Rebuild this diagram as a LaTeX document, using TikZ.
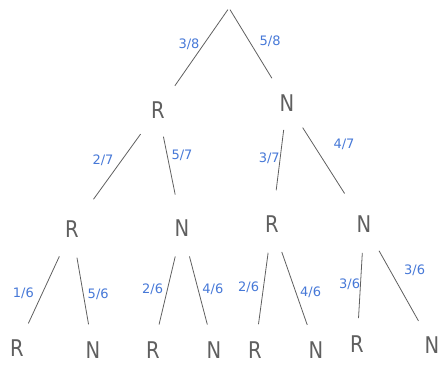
\documentclass[tikz,border=0pt]{standalone}
\usepackage{fontspec}
\setsansfont{DejaVu Sans}
\definecolor{pencil}{RGB}{95,95,95}
\definecolor{inkblue}{RGB}{70,120,215}

\begin{document}
\begin{tikzpicture}[x=1pt, y=-1pt,
      every node/.style={font=\sffamily},
      letter/.style={text=pencil, font=\sffamily\fontsize{23}{23}\selectfont\addfontfeature{FakeStretch=0.85}},
      prob/.style={text=inkblue, font=\sffamily\fontsize{13}{13}\selectfont, inner sep=4pt},
      branch/.style={draw=pencil, line width=0.8pt}
  ]
    \useasboundingbox (0,0) rectangle (438,367);
    \coordinate (root) at (229,8);
    % first draw
    \node[letter] (r) at (158,110) {R};
    \node[letter] (n) at (287,103) {N};
    % second draw
    \node[letter] (rr) at (72,229) {R};
    \node[letter] (rn) at (182,228) {N};
    \node[letter] (nr) at (272,224) {R};
    \node[letter] (nn) at (364,224) {N};
    % third draw
    \node[letter] (rrr) at (17,348) {R};
    \node[letter] (rrn) at (93,350) {N};
    \node[letter] (rnr) at (153,350) {R};
    \node[letter] (rnn) at (214,350) {N};
    \node[letter] (nrr) at (255,350) {R};
    \node[letter] (nrn) at (316,350) {N};
    \node[letter] (nnr) at (357,344) {R};
    \node[letter] (nnn) at (432,345) {N};
    \draw[branch, shorten <=2pt, shorten >=15pt] (root) -- node[prob, left, pos=0.4] {3/8} (r);
    \draw[branch, shorten <=2pt, shorten >=15pt] (root) -- node[prob, right, pos=0.4, xshift=6pt] {5/8} (n);
    \begin{scope}[shorten <=15pt, shorten >=22pt]
    \draw[branch] (r) -- node[prob, left, pos=0.4, xshift=-4pt] {2/7} (rr);
    \draw[branch] (r) -- node[prob, right, pos=0.35] {5/7} (rn);
    \draw[branch] (n) -- node[prob, left, pos=0.45, xshift=4pt] {3/7} (nr);
    \draw[branch] (n) -- node[prob, right, pos=0.3, xshift=16pt] {4/7} (nn);
    \end{scope}
    \begin{scope}[shorten <=17pt, shorten >=14pt]
    \draw[branch] (rr) -- node[prob, left, pos=0.55, xshift=-4pt] {1/6} (rrr);
    \draw[branch] (rr) -- node[prob, right, pos=0.55] {5/6} (rrn);
    \draw[branch] (rn) -- node[prob, left, pos=0.5] {2/6} (rnr);
    \draw[branch] (rn) -- node[prob, right, pos=0.5] {4/6} (rnn);
    \draw[branch] (nr) -- node[prob, left, pos=0.5] {2/6} (nrr);
    \draw[branch] (nr) -- node[prob, right, pos=0.55] {4/6} (nrn);
    \draw[branch] (nn) -- node[prob, left, pos=0.5, xshift=4pt] {3/6} (nnr);
    \draw[branch] (nn) -- node[prob, right, pos=0.35, xshift=10pt] {3/6} (nnn);
    \end{scope}
  \end{tikzpicture}
\end{document}
